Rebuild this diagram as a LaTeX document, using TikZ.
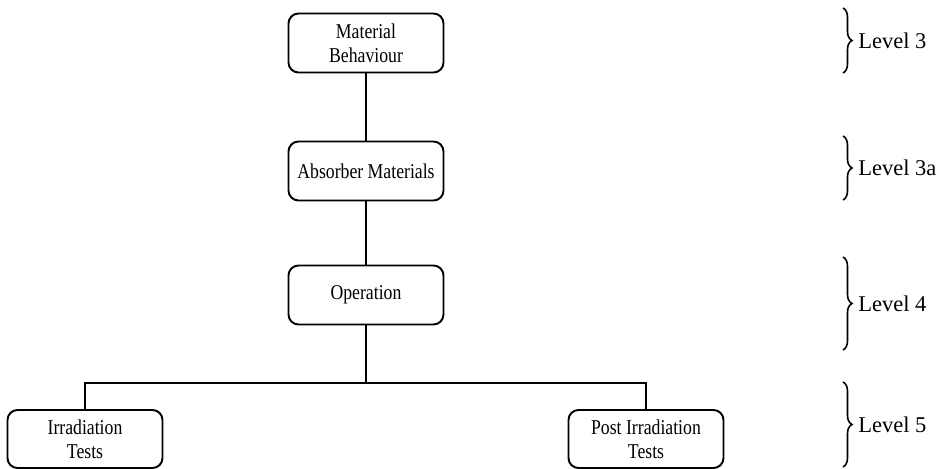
\documentclass[tikz,border=0pt]{standalone}
\usepackage{fontspec}
\setmainfont{Liberation Serif}
\newfontfamily\boxfont[FakeStretch=0.84]{Liberation Serif}
\usepackage{tikz}
\usetikzlibrary{positioning,decorations.pathreplacing}
\tikzstyle{block} = [draw=black,line width=1.1pt,rounded corners=0.2cm,minimum width=3.1cm,minimum height=1.18cm,inner sep=0,align=center,font=\boxfont\fontsize{12}{13.6}\selectfont]
\tikzstyle{level} = [decorate,decoration={brace,amplitude=0.18cm},line width=0.9pt]
\tikzstyle{levelname} = [right=0.22cm,inner sep=2pt,font=\fontsize{12.8}{15}\selectfont]
\tikzset{node distance=2.52cm}

\begin{document}
\begin{tikzpicture}[line width=1.1pt]
\useasboundingbox (-7.32,0.86) rectangle (11.58,-8.52);

\node[block] (mb) {Material\\Behaviour};
\node[block, below of=mb, node distance=2.56cm] (am) {Absorber Materials};
\node[block, below of=am, node distance=2.48cm] (op) {Operation};
\coordinate[below of=op, node distance=1.76cm] (fork);

\node[block, minimum height=1.16cm] (it) at (-5.62,-7.92) {Irradiation\\Tests};
\node[block, minimum height=1.16cm] (pit) at (5.6,-7.92) {Post Irradiation\\Tests};

\draw (mb) to (am);
\draw (am) to (op);
\draw (op) to (fork);
\draw (it) |- (fork) -| (pit);

% levels on the right
\draw[level] (9.54,0.7) -- (9.54,-0.6) node[midway,levelname] {Level 3};
\draw[level] (9.54,-1.86) -- (9.54,-3.14) node[midway,levelname] {Level 3a};
\draw[level] (9.54,-4.28) -- (9.54,-6.14) node[midway,levelname] {Level 4};
\draw[level] (9.54,-6.78) -- (9.54,-8.48) node[midway,levelname] {Level 5};
\end{tikzpicture}
\end{document}
